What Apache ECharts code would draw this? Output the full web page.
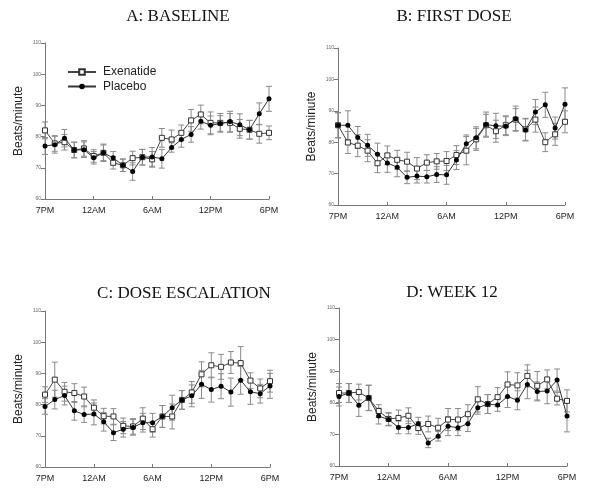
<!DOCTYPE html>
<html><head><meta charset="utf-8">
<script src="https://cdn.jsdelivr.net/npm/echarts@6/dist/echarts.min.js"></script>
<style>html,body{margin:0;padding:0;background:#fff}#c{width:600px;height:501px}</style>
</head><body><div id="c"></div>
<script>
const hours = ['7PM','8PM','9PM','10PM','11PM','12AM','1AM','2AM','3AM','4AM','5AM','6AM','7AM','8AM','9AM','10AM','11AM','12PM','1PM','2PM','3PM','4PM','5PM','6PM'];
const shownLabels = ['7PM','12AM','6AM','12PM','6PM'];
const panelTitles = ['A: BASELINE','B: FIRST DOSE','C: DOSE ESCALATION','D: WEEK 12'];
const yTicks = [60,70,80,90,100,110];

const exenA = [82.0,77.8,78.2,75.7,76.2,73.8,74.8,71.6,70.8,73.1,73.4,72.7,79.6,79.1,81.2,85.2,87.1,84.4,84.4,84.4,82.5,82.2,80.9,81.2];
const exenErrA = [2.7,2.5,2.5,2.5,2.5,2,2.5,2,2,2.2,2.5,2.5,3,3,2.5,3.5,3,3.5,3,3,3,3,3,2.2];
const placA = [77.0,77.4,79.5,75.7,75.8,73.2,74.8,73.2,70.8,68.8,73.4,73.5,72.9,76.5,79.1,80.7,84.9,83.6,84.2,84.8,83.8,82.2,87.3,92.1];
const placErrA = [2.7,2.7,2.8,2.5,2.5,2,2.8,2,2,2.8,2.5,3,3,1.5,2.5,2.5,2.5,3,2.5,3.3,3.5,3,3.5,4];

const exenB = [85.4,79.9,78.9,77.3,73.3,75.8,74.4,73.8,71.6,73.5,73.9,74.0,75.9,77.3,80.9,85.4,83.5,85.4,87.2,84.1,87.2,80.0,82.5,86.5];
const exenErrB = [4,3.5,3.5,3.5,3,3,3,3,3.5,2.5,2.5,3,3,4.5,3.5,3.5,3.5,3,3.5,3.5,4,3,3.5,3.5];
const placB = [85.4,85.4,81.5,79.0,76.2,73.4,72.0,68.8,69.2,69.0,69.7,69.6,74.3,79.5,81.4,85.6,85.2,85.1,87.5,83.9,89.6,91.9,84.5,92.1];
const placErrB = [4,4.6,3.5,3.5,3.5,3,3,2,2.2,2,2.5,3,3,2.8,3.5,4,4,3,4,3.5,4,4,3.5,5.2];

const exenC = [83.2,88.0,84.1,83.7,82.6,79.0,76.3,76.2,73.2,73.0,75.5,72.1,76.2,76.2,81.5,83.9,89.7,92.6,92.1,93.5,93.3,87.7,85.2,87.5];
const exenErrC = [2.5,5.6,3,3,3,2.5,2.5,2.5,2.5,2.5,3.5,2.5,3.5,4,3,3.5,4,4,4,3.5,5.3,2.5,3,3.5];
const placC = [79.4,81.6,82.9,78.0,76.8,77.0,74.5,71.0,72.1,72.7,74.2,74.2,76.2,79.0,81.5,82.8,86.5,84.8,85.9,84.0,87.8,84.1,83.5,86.0];
const placErrC = [2.5,3,3,3,2.5,3.5,3,2.5,2.5,2.5,3,3,3.5,4,3,3.5,4.5,4,4,4.5,4.5,4,3,4];

const exenD = [83.1,83.1,83.4,81.5,77.4,74.9,75.2,75.9,72.0,73.3,72.1,74.7,74.7,76.4,81.1,79.6,81.8,85.8,85.5,88.5,85.4,87.4,81.3,80.6];
const exenErrD = [3,3,2.5,4,2,2,2.5,2.5,2,2.5,3,3.5,3.5,3,4,3,3,4,4,3.5,4.5,3,2,3.5];
const placD = [82.0,83.1,79.2,81.6,75.8,74.7,72.2,72.2,73.4,67.3,69.4,72.6,72.1,73.4,78.4,79.6,79.3,82.0,80.8,85.8,83.6,83.7,87.2,75.8];
const placErrD = [3,3,3.5,4,2.5,2,2,2,2,1.5,1.5,3,2.5,2.5,2,3,2,3.5,3,4.5,3,4,3.5,5];

const panels = [
  {exen: exenA, exenErr: exenErrA, plac: placA, placErr: placErrA},
  {exen: exenB, exenErr: exenErrB, plac: placB, placErr: placErrB},
  {exen: exenC, exenErr: exenErrC, plac: placC, placErr: placErrC},
  {exen: exenD, exenErr: exenErrD, plac: placD, placErr: placErrD}
];

// layout (pixels)
const grids = [
  {left: 45, top: 43, width: 224, height: 156},
  {left: 338, top: 48, width: 227, height: 157},
  {left: 45, top: 311, width: 225, height: 156},
  {left: 339, top: 308, width: 228, height: 158}
];
const titlePos = [[173,3],[449,3],[179,280],[447,279]];

const chart = echarts.init(document.getElementById('c'), null, {renderer: 'canvas'});

const showIdx = new Set(shownLabels.map(l => hours.indexOf(l)));

function errSeries(vals, errs, gi, name) {
  return {
    type: 'custom', name: name, xAxisIndex: gi, yAxisIndex: gi, z: 1,
    silent: true,
    data: vals.map((v, i) => [i, v, errs[i]]),
    renderItem: function (params, api) {
      const x = api.value(0), m = api.value(1), e = api.value(2);
      const top = api.coord([x, m + e]);
      const bot = api.coord([x, m - e]);
      const hw = 3;
      const style = {stroke: '#8a8a8a', lineWidth: 1};
      return {type: 'group', children: [
        {type: 'line', shape: {x1: top[0], y1: top[1], x2: bot[0], y2: bot[1]}, style: style},
        {type: 'line', shape: {x1: top[0]-hw, y1: top[1], x2: top[0]+hw, y2: top[1]}, style: style},
        {type: 'line', shape: {x1: bot[0]-hw, y1: bot[1], x2: bot[0]+hw, y2: bot[1]}, style: style}
      ]};
    }
  };
}

const option = {
  animation: false,
  backgroundColor: '#fff',
  title: panelTitles.map((t, i) => ({
    text: t, left: titlePos[i][0], top: titlePos[i][1], textAlign: 'center',
    textStyle: {fontFamily: 'Liberation Serif', fontWeight: 'normal', fontSize: 17, color: '#111'}
  })),
  legend: {
    data: ['Exenatide', 'Placebo'],
    orient: 'vertical', left: 62, top: 61,
    itemWidth: 28, itemHeight: 7, itemGap: 2.5,
    textStyle: {fontFamily: 'Liberation Sans', fontSize: 12, color: '#222', padding: [0,0,0,2]}
  },
  grid: grids.map(g => Object.assign({containLabel: false}, g)),
  xAxis: grids.map((g, i) => ({
    type: 'category', gridIndex: i, data: hours, boundaryGap: false,
    axisLine: {lineStyle: {color: '#777', width: 1}},
    axisTick: {inside: true, length: 3, interval: (idx) => showIdx.has(idx), lineStyle: {color: '#777'}},
    axisLabel: {interval: (idx) => showIdx.has(idx), fontFamily: 'Liberation Sans', fontSize: 9, color: '#222', margin: 7},
    splitLine: {show: false}
  })),
  yAxis: grids.map((g, i) => ({
    type: 'value', gridIndex: i, min: yTicks[0], max: yTicks[yTicks.length-1], interval: 10,
    name: 'Beats/minute', nameLocation: 'middle', nameGap: 20, nameRotate: 90,
    nameTextStyle: {fontFamily: 'Liberation Sans', fontSize: 12, color: '#222'},
    axisLine: {show: true, lineStyle: {color: '#777', width: 1}},
    axisTick: {show: true, length: 4, lineStyle: {color: '#777'}},
    axisLabel: {fontFamily: 'Liberation Sans', fontSize: 5, color: '#666', margin: 4},
    splitLine: {show: false}
  })),
  series: []
};

panels.forEach((p, i) => {
  option.series.push(errSeries(p.exen, p.exenErr, i, 'exenErr'));
  option.series.push(errSeries(p.plac, p.placErr, i, 'placErr'));
  option.series.push({
    type: 'line', name: 'Exenatide', xAxisIndex: i, yAxisIndex: i, data: p.exen, z: 3,
    symbol: 'rect', symbolSize: 5, showAllSymbol: true,
    lineStyle: {color: '#444', width: 1},
    itemStyle: {color: '#fff', borderColor: '#333', borderWidth: 1}
  });
  option.series.push({
    type: 'line', name: 'Placebo', xAxisIndex: i, yAxisIndex: i, data: p.plac, z: 4,
    symbol: 'circle', symbolSize: 5, showAllSymbol: true,
    lineStyle: {color: '#333', width: 1},
    itemStyle: {color: '#000', borderColor: '#000', borderWidth: 0}
  });
});

chart.setOption(option);
</script>
</body></html>
